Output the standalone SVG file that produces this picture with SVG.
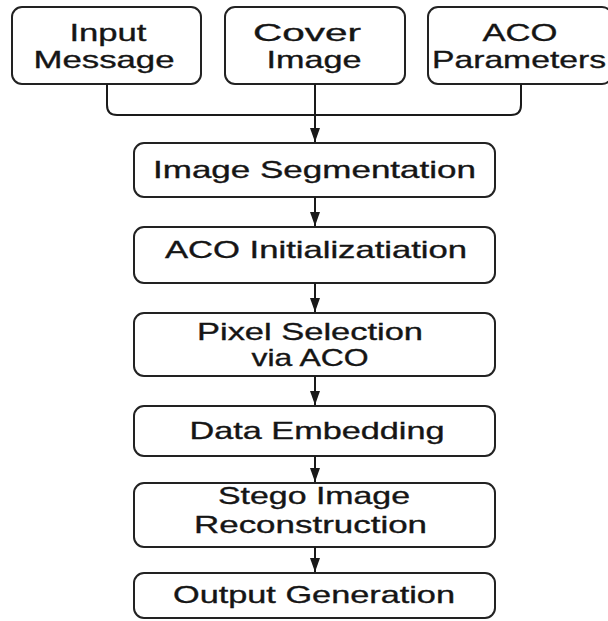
<svg xmlns="http://www.w3.org/2000/svg" width="608" height="621" viewBox="0 0 608 621">
  <defs>
    <marker id="arrow" viewBox="0 0 14 10" refX="14" refY="5" markerWidth="14" markerHeight="10" markerUnits="userSpaceOnUse" orient="auto">
      <path d="M0,0 L14,5 L0,10 Z" fill="#1a1a1a"/>
    </marker>
  </defs>
  <style>
    .box { fill: #ffffff; stroke: #222222; stroke-width: 2; }
    .lbl { font-family: "Liberation Sans", Arial, Helvetica, sans-serif; font-size: 24px; fill: #151515; stroke: #151515; stroke-width: 0.35; text-anchor: middle; }
    .wire { fill: none; stroke: #1a1a1a; stroke-width: 2; }
  </style>
  <rect width="608" height="621" fill="#ffffff"/>

  <!-- input nodes -->
  <g id="input-message">
    <rect class="box" x="12" y="7" width="189" height="77" rx="10"/>
    <text class="lbl" x="108" y="41" textLength="77" lengthAdjust="spacingAndGlyphs">Input</text>
    <text class="lbl" x="104" y="68" textLength="141" lengthAdjust="spacingAndGlyphs">Message</text>
  </g>
  <g id="cover-image">
    <rect class="box" x="225" y="7" width="180" height="77" rx="10"/>
    <text class="lbl" x="307" y="41" textLength="108" lengthAdjust="spacingAndGlyphs">Cover</text>
    <text class="lbl" x="314" y="68" textLength="95" lengthAdjust="spacingAndGlyphs">Image</text>
  </g>
  <g id="aco-parameters">
    <rect class="box" x="428" y="7" width="184" height="77" rx="10"/>
    <text class="lbl" x="520" y="41" textLength="75" lengthAdjust="spacingAndGlyphs">ACO</text>
    <text class="lbl" x="519" y="68" textLength="174" lengthAdjust="spacingAndGlyphs">Parameters</text>
  </g>

  <!-- pipeline nodes -->
  <g id="image-segmentation">
    <rect class="box" x="134" y="143" width="361" height="54" rx="10"/>
    <text class="lbl" x="314.5" y="178" textLength="323" lengthAdjust="spacingAndGlyphs">Image Segmentation</text>
  </g>
  <g id="aco-initialization">
    <rect class="box" x="134" y="227" width="361" height="56" rx="10"/>
    <text class="lbl" x="316" y="258" textLength="302" lengthAdjust="spacingAndGlyphs">ACO Initializatiation</text>
  </g>
  <g id="pixel-selection">
    <rect class="box" x="134" y="313" width="361" height="63" rx="10"/>
    <text class="lbl" x="310" y="340" textLength="226" lengthAdjust="spacingAndGlyphs">Pixel Selection</text>
    <text class="lbl" x="310" y="366" textLength="117" lengthAdjust="spacingAndGlyphs">via ACO</text>
  </g>
  <g id="data-embedding">
    <rect class="box" x="134" y="406" width="361" height="50" rx="10"/>
    <text class="lbl" x="317" y="439" textLength="255" lengthAdjust="spacingAndGlyphs">Data Embedding</text>
  </g>
  <g id="stego-reconstruction">
    <rect class="box" x="134" y="483" width="361" height="64" rx="10"/>
    <text class="lbl" x="314" y="504" textLength="192" lengthAdjust="spacingAndGlyphs">Stego Image</text>
    <text class="lbl" x="310.5" y="533" textLength="233" lengthAdjust="spacingAndGlyphs">Reconstruction</text>
  </g>
  <g id="output-generation">
    <rect class="box" x="134" y="573" width="361" height="45" rx="10"/>
    <text class="lbl" x="314" y="603" textLength="282" lengthAdjust="spacingAndGlyphs">Output Generation</text>
  </g>

  <!-- connectors -->
  <g id="connectors">
    <path class="wire" d="M107,84 V105 Q107,115 117,115 H511 Q521,115 521,105 V84"/>
    <path class="wire" d="M315,84 V142" marker-end="url(#arrow)"/>
    <path class="wire" d="M315,197 V226" marker-end="url(#arrow)"/>
    <path class="wire" d="M315,283 V312" marker-end="url(#arrow)"/>
    <path class="wire" d="M315,376 V405" marker-end="url(#arrow)"/>
    <path class="wire" d="M315,456 V482" marker-end="url(#arrow)"/>
    <path class="wire" d="M315,547 V572" marker-end="url(#arrow)"/>
  </g>
</svg>
